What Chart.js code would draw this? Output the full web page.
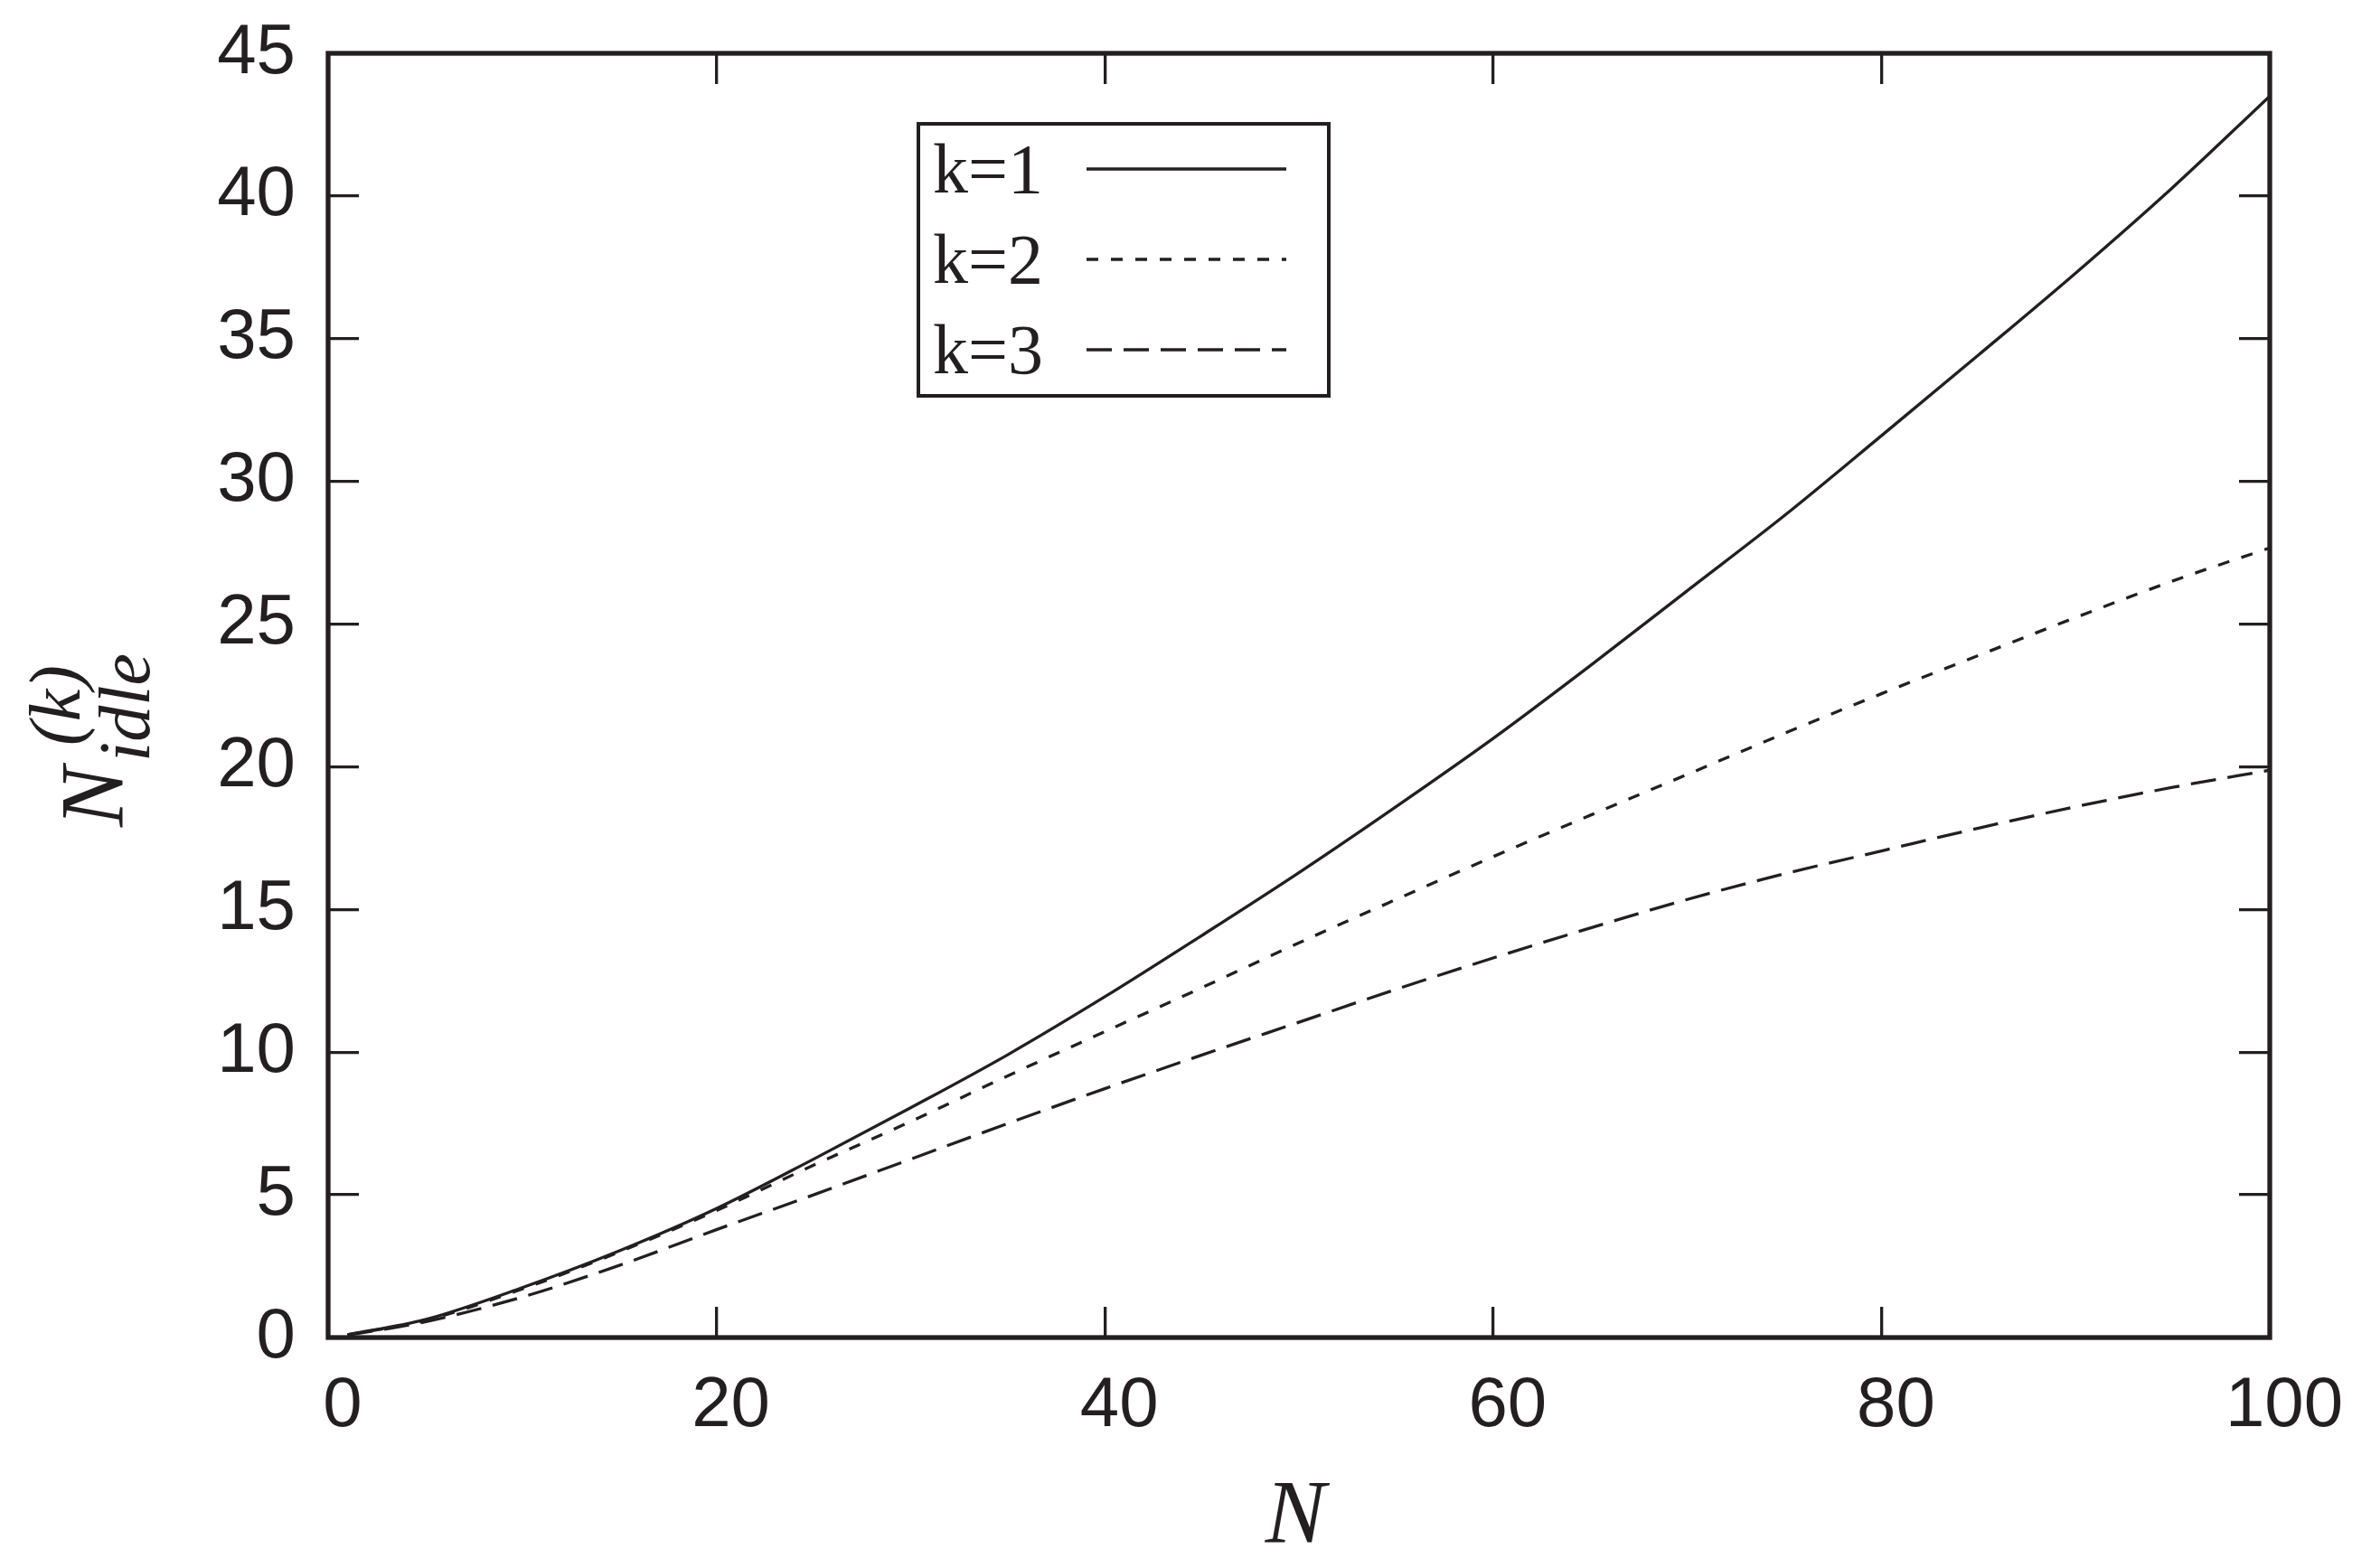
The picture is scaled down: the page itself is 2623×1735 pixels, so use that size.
<!DOCTYPE html>
<html>
<head>
<meta charset="utf-8">
<script src="https://cdn.jsdelivr.net/npm/chart.js@4.4.1/dist/chart.umd.min.js"></script>
<style>
  html, body { margin: 0; padding: 0; background: #fff; }
  canvas { display: block; }
</style>
</head>
<body>
<canvas id="chart" width="2623" height="1735"></canvas>
<script>
// values
const nValues = [1, 5, 10, 15, 20, 25, 30, 35, 40, 45, 50, 55, 60, 65, 70, 75, 80, 85, 90, 95, 100];
const idleK1 = [0.1, 0.63, 1.75, 3.04, 4.52, 6.25, 8.05, 9.91, 11.94, 14.09, 16.29, 18.6, 20.99, 23.54, 26.17, 28.8, 31.6, 34.43, 37.3, 40.3, 43.5];
const idleK2 = [0.1, 0.6, 1.7, 3.0, 4.45, 6.04, 7.57, 9.17, 10.72, 12.26, 13.83, 15.35, 16.85, 18.3, 19.73, 21.17, 22.56, 23.9, 25.23, 26.51, 27.67];
const idleK3 = [0.08, 0.55, 1.42, 2.53, 3.78, 5.0, 6.25, 7.5, 8.72, 9.9, 11.05, 12.2, 13.3, 14.35, 15.35, 16.25, 17.05, 17.85, 18.6, 19.28, 19.88];
const seriesLabels = ["k=1", "k=2", "k=3"];
const xTicks = [0, 20, 40, 60, 80, 100];
const yTicks = [0, 5, 10, 15, 20, 25, 30, 35, 40, 45];

const INK = "#231f20";
const tickFont = { family: "'Liberation Sans', Arial, sans-serif", size: 78 };

function toPoints(ys) {
  return nValues.map((n, i) => ({ x: n, y: ys[i] }));
}

function makeDataset(label, ys, dash) {
  return {
    label,
    data: toPoints(ys),
    showLine: true,
    borderColor: INK,
    borderWidth: 3.3,
    borderDash: dash,
    pointRadius: 0,
    cubicInterpolationMode: "monotone",
    fill: false,
  };
}

// inward tick marks, no grid on the plot area
const tickGrid = {
  drawOnChartArea: false,
  drawTicks: true,
  tickLength: -34,
  lineWidth: 3.3,
  color: INK,
};

// pin each axis to a fixed size and drop the label overflow padding
function fixSize(size) {
  return (s) => {
    if (s.isHorizontal()) s.height = size;
    else s.width = size;
    s.paddingTop = 0;
    s.paddingBottom = 0;
    s.paddingLeft = 0;
    s.paddingRight = 0;
  };
}

const framePlugin = {
  id: "frame",
  afterDatasetsDraw(chart) {
    const { ctx, chartArea: a } = chart;
    ctx.save();
    ctx.strokeStyle = INK;
    ctx.lineWidth = 5.3;
    ctx.lineJoin = "miter";
    ctx.strokeRect(a.left, a.top, a.right - a.left, a.bottom - a.top);
    ctx.restore();
  },
};

const legendPlugin = {
  id: "boxLegend",
  afterDraw(chart) {
    const { ctx } = chart;
    ctx.save();
    ctx.fillStyle = "#fff";
    ctx.fillRect(1016, 137, 454, 301);
    ctx.strokeStyle = INK;
    ctx.lineWidth = 4;
    ctx.strokeRect(1016, 137, 454, 301);

    ctx.font = "78px 'Liberation Serif', 'Times New Roman', serif";
    ctx.textAlign = "left";
    ctx.textBaseline = "alphabetic";
    chart.data.datasets.forEach((ds, i) => {
      const rowY = 213 + i * 100;
      ctx.fillStyle = INK;
      ctx.fillText(ds.label, 1032, rowY);
      ctx.beginPath();
      ctx.setLineDash(ds.borderDash || []);
      ctx.lineWidth = ds.borderWidth;
      ctx.strokeStyle = ds.borderColor;
      ctx.moveTo(1202, rowY - 26);
      ctx.lineTo(1423, rowY - 26);
      ctx.stroke();
    });
    ctx.restore();
  },
};

const titlesPlugin = {
  id: "axisTitles",
  afterDraw(chart) {
    const { ctx } = chart;
    ctx.save();
    ctx.fillStyle = INK;
    ctx.textBaseline = "alphabetic";

    // x title
    ctx.font = "italic 100px 'Liberation Serif', 'Times New Roman', serif";
    ctx.textAlign = "center";
    ctx.fillText("N", 1433, 1706);

    // y title: N^{(k)}_{idle}, rotated
    ctx.translate(135, 915);
    ctx.rotate(-Math.PI / 2);
    ctx.textAlign = "left";
    ctx.font = "italic 100px 'Liberation Serif', 'Times New Roman', serif";
    ctx.fillText("N", 0, 0);
    ctx.font = "italic 80px 'Liberation Serif', 'Times New Roman', serif";
    ctx.fillText("idle", 72, 30);
    ctx.fillText("(k)", 90, -47);
    ctx.restore();
  },
};

new Chart(document.getElementById("chart"), {
  type: "scatter",
  data: {
    datasets: [
      makeDataset(seriesLabels[0], idleK1, []),
      makeDataset(seriesLabels[1], idleK2, [13, 14]),
      makeDataset(seriesLabels[2], idleK3, [28, 13]),
    ],
  },
  options: {
    responsive: false,
    devicePixelRatio: 1,
    animation: false,
    layout: { padding: { top: 59, right: 112, left: 0, bottom: 0 } },
    plugins: {
      legend: { display: false },
      tooltip: { enabled: false },
    },
    scales: {
      x: {
        type: "linear",
        position: "bottom",
        min: xTicks[0],
        max: xTicks[xTicks.length - 1],
        afterFit: fixSize(255),
        afterBuildTicks: (s) => { s.ticks = xTicks.map((v) => ({ value: v })); },
        ticks: { font: tickFont, color: INK, padding: 64, labelOffset: 16, maxRotation: 0, autoSkip: false },
        grid: tickGrid,
        border: { display: false },
      },
      x2: {
        type: "linear",
        position: "top",
        min: xTicks[0],
        max: xTicks[xTicks.length - 1],
        afterFit: fixSize(0),
        afterBuildTicks: (s) => { s.ticks = xTicks.map((v) => ({ value: v })); },
        ticks: { display: false },
        grid: tickGrid,
        border: { display: false },
      },
      y: {
        type: "linear",
        position: "left",
        min: yTicks[0],
        max: yTicks[yTicks.length - 1],
        afterFit: fixSize(363),
        afterBuildTicks: (s) => { s.ticks = yTicks.map((v) => ({ value: v })); },
        ticks: { font: tickFont, color: INK, padding: 70, autoSkip: false },
        grid: tickGrid,
        border: { display: false },
      },
      y2: {
        type: "linear",
        position: "right",
        min: yTicks[0],
        max: yTicks[yTicks.length - 1],
        afterFit: fixSize(0),
        afterBuildTicks: (s) => { s.ticks = yTicks.map((v) => ({ value: v })); },
        ticks: { display: false },
        grid: tickGrid,
        border: { display: false },
      },
    },
  },
  plugins: [framePlugin, legendPlugin, titlesPlugin],
});
</script>
</body>
</html>
